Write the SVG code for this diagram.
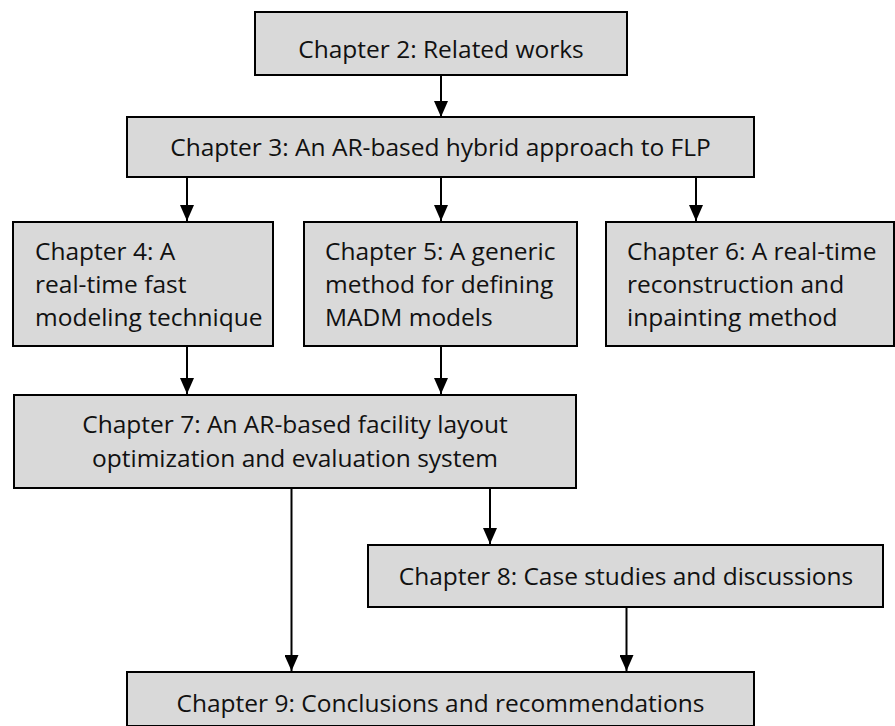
<svg xmlns="http://www.w3.org/2000/svg" width="895" height="726" viewBox="0 0 895 726">
<defs>
<marker id="ah" markerUnits="userSpaceOnUse" markerWidth="16" markerHeight="14" viewBox="0 0 16 14" refX="16" refY="7" orient="auto">
<path d="M0,0 L16,7 L0,14 Z" fill="#000"/>
</marker>
</defs>
<style>
.box{fill:#d9d9d9;stroke:#000;stroke-width:2}
.t{font-family:"Open Sans","Noto Sans",sans-serif;font-size:24.5px;fill:#111}
.c{text-anchor:middle}
.ln{stroke:#000;stroke-width:2;fill:none}
</style>
<rect width="895" height="726" fill="#fff"/>
<g id="connectors">
<line class="ln" x1="441" y1="75" x2="441" y2="117" marker-end="url(#ah)"/>
<line class="ln" x1="187" y1="177" x2="187" y2="221" marker-end="url(#ah)"/>
<line class="ln" x1="441" y1="177" x2="441" y2="221" marker-end="url(#ah)"/>
<line class="ln" x1="696" y1="177" x2="696" y2="221" marker-end="url(#ah)"/>
<line class="ln" x1="187" y1="346" x2="187" y2="394" marker-end="url(#ah)"/>
<line class="ln" x1="441" y1="346" x2="441" y2="394" marker-end="url(#ah)"/>
<line class="ln" x1="291.5" y1="488" x2="291.5" y2="671" marker-end="url(#ah)"/>
<line class="ln" x1="490" y1="488" x2="490" y2="544" marker-end="url(#ah)"/>
<line class="ln" x1="626.5" y1="607" x2="626.5" y2="671" marker-end="url(#ah)"/>
</g>
<g id="ch2">
<rect class="box" x="255" y="12" width="372" height="63"/>
<text class="t c" x="441" y="58">Chapter 2: Related works</text>
</g>
<g id="ch3">
<rect class="box" x="127" y="117" width="627" height="60"/>
<text class="t c" x="440.5" y="156">Chapter 3: An AR-based hybrid approach to FLP</text>
</g>
<g id="ch4">
<rect class="box" x="13" y="222" width="260" height="124"/>
<text class="t" x="35" y="260">Chapter 4: A</text>
<text class="t" x="35" y="293">real-time fast</text>
<text class="t" x="35" y="326">modeling technique</text>
</g>
<g id="ch5">
<rect class="box" x="304" y="222" width="273" height="124"/>
<text class="t" x="325" y="260">Chapter 5: A generic</text>
<text class="t" x="325" y="293">method for defining</text>
<text class="t" x="325" y="326">MADM models</text>
</g>
<g id="ch6">
<rect class="box" x="606" y="222" width="288" height="124"/>
<text class="t" x="627" y="260">Chapter 6: A real-time</text>
<text class="t" x="627" y="293">reconstruction and</text>
<text class="t" x="627" y="326">inpainting method</text>
</g>
<g id="ch7">
<rect class="box" x="14" y="395" width="562" height="93"/>
<text class="t c" x="295" y="433">Chapter 7: An AR-based facility layout</text>
<text class="t c" x="295" y="467">optimization and evaluation system</text>
</g>
<g id="ch8">
<rect class="box" x="368" y="545" width="515" height="62"/>
<text class="t c" x="626" y="585">Chapter 8: Case studies and discussions</text>
</g>
<g id="ch9">
<rect class="box" x="127" y="672" width="627" height="54"/>
<text class="t c" x="440.5" y="712">Chapter 9: Conclusions and recommendations</text>
</g>
</svg>
